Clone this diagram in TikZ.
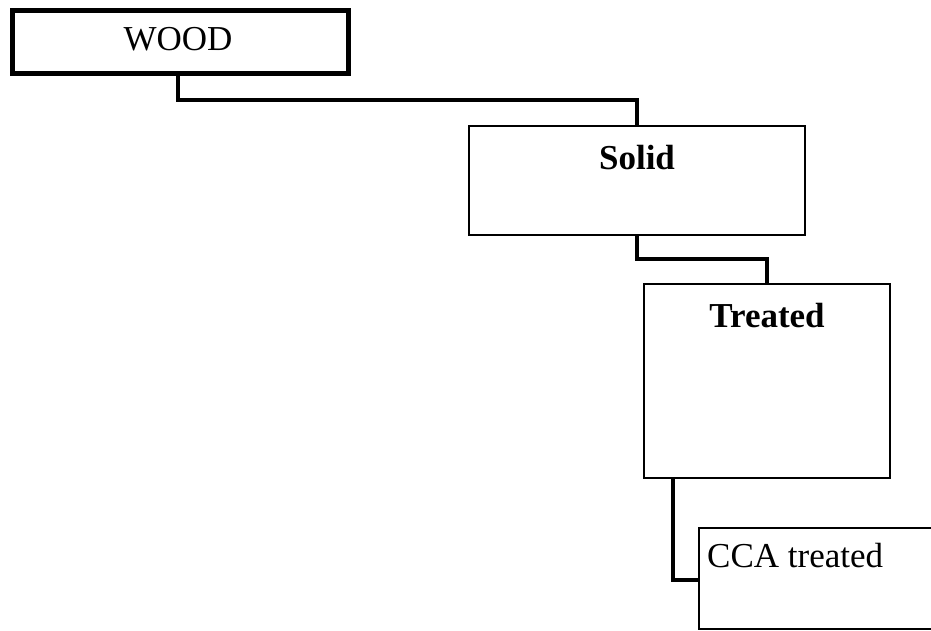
\documentclass[tikz,border=0pt]{standalone}
\usepackage{fontspec}
\setmainfont{Liberation Serif}
\begin{document}
\begin{tikzpicture}[x=1pt,y=-1pt,
  box/.style={draw=black,line width=2pt,inner sep=0pt,anchor=north west},
  boldbox/.style={box,line width=5pt},
  link/.style={draw=black,line width=3.2pt,line cap=round,line join=miter},
  lbl/.style={inner sep=0pt,anchor=base,font=\fontsize{35}{40}\selectfont},
  blbl/.style={lbl,font=\fontsize{35}{40}\selectfont\bfseries}]
\useasboundingbox (0,0) rectangle (931,630);
\clip (0,0) rectangle (931,630);
% boxes
\node[boldbox,minimum width=336pt,minimum height=63.5pt] (wood) at (9.5,7.5) {};
\node[box,minimum width=336pt,minimum height=109pt] (solid) at (468,125) {};
\node[box,minimum width=246pt,minimum height=194pt] (treated) at (643,283) {};
\node[box,minimum width=330pt,minimum height=101pt] (cca) at (698,527) {};
% labels
\node[lbl] (twood) at (178,50) {WOOD};
\node[blbl] (tsolid) at (637,169) {Solid};
\node[blbl] (ttreated) at (767,327) {Treated};
\node[lbl,anchor=base west] (tcca) at (707,567) {CCA treated};
% connectors
\coordinate (w1) at (178,100);
\coordinate (w2) at (637,100);
\draw[link] (wood.south -| w1) -- (w1) -- (w2) -- (solid.north -| w2);
\coordinate (s1) at (637,259);
\coordinate (s2) at (767,259);
\draw[link] (solid.south -| s1) -- (s1) -- (s2) -- (treated.north -| s2);
\coordinate (t1) at (673,580);
\draw[link] (treated.south -| t1) -- (t1) -- (cca.west |- t1);
\end{tikzpicture}
\end{document}
